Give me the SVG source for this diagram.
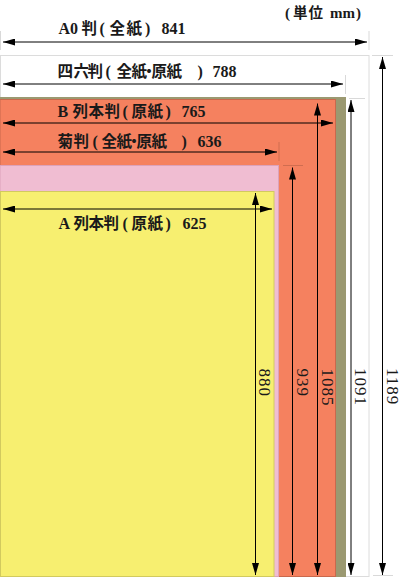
<svg xmlns="http://www.w3.org/2000/svg" width="400" height="577" viewBox="0 0 400 577">
<style>
  .lbl { font-family: "Liberation Serif", "Noto Sans CJK JP", serif; font-size: 16px; font-weight: bold; fill: #1a1a1a; }
  .cjk { font-family: "Noto Sans CJK JP", sans-serif; font-size: 15.5px; font-weight: bold; }
  .vlbl { font-family: "Liberation Serif", serif; font-size: 17px; fill: #1a1a1a; letter-spacing: 1px; }
  .dim { stroke: #000; stroke-width: 1; fill: none; marker-start: url(#ah); marker-end: url(#ah); }
  .ext { stroke: #000; stroke-opacity: 0.15; stroke-width: 1; fill: none; }
</style>
<defs>
  <marker id="ah" markerWidth="12" markerHeight="7" refX="12" refY="3.5" orient="auto-start-reverse" markerUnits="userSpaceOnUse">
    <path d="M0,0 L12,3.5 L0,7 z" fill="#000"/>
  </marker>
</defs>

<rect width="400" height="577" fill="#fff"/>

<g id="unit">
  <text class="lbl" y="17.5" style="font-size:15px"><tspan x="285">(</tspan><tspan class="cjk" style="font-size:14.5px" x="293 308.5">単位</tspan><tspan x="330">mm</tspan><tspan x="356">)</tspan></text>
</g>

<g id="a0">
  <rect x="0.5" y="55.5" width="368.5" height="521" fill="#fff" stroke="#dcdcdc"/>
  <text class="lbl" y="34"><tspan x="58.5">A0</tspan><tspan class="cjk" x="81.5">判</tspan><tspan x="99.5">(</tspan><tspan class="cjk" x="109.5 126.5">全紙</tspan><tspan x="145">)</tspan><tspan x="161.5">841</tspan></text>
  <text class="vlbl" transform="translate(386.5,368) rotate(90)">1189</text>
</g>

<g id="shiroku">
  <rect x="0" y="97" width="346" height="480" fill="#9b9971"/>
  <text class="lbl" y="77"><tspan class="cjk" x="57.5 73.5 87.5">四六判</tspan><tspan x="105.5">(</tspan><tspan class="cjk" x="116.5 131.5 141.3 151.5 166.5">全紙・原紙</tspan><tspan x="197.5">)</tspan><tspan x="212.5">788</tspan></text>
  <text class="vlbl" transform="translate(354.5,368) rotate(90)">1091</text>
</g>

<g id="b-honban">
  <rect x="0" y="99.5" width="335.5" height="477" fill="#f5815f" stroke="#c9694d"/>
  <text class="lbl" y="117"><tspan x="57.5">B</tspan><tspan class="cjk" x="72.5 88.5 104.5">列本判</tspan><tspan x="122.5">(</tspan><tspan class="cjk" x="131.5 147.5">原紙</tspan><tspan x="165.5">)</tspan><tspan x="181.5">765</tspan></text>
  <text class="vlbl" transform="translate(322,368.5) rotate(90)">1085</text>
</g>

<g id="kiku">
  <rect x="0" y="165.5" width="278.5" height="411" fill="#f0bdd2" stroke="#dca2ba"/>
  <text class="lbl" y="147"><tspan class="cjk" x="57.5 73.5">菊判</tspan><tspan x="92.5">(</tspan><tspan class="cjk" x="101.5 116.5 126.3 136.5 151.5">全紙・原紙</tspan><tspan x="181.5">)</tspan><tspan x="197.5">636</tspan></text>
  <text class="vlbl" transform="translate(297,368.5) rotate(90)">939</text>
</g>

<g id="a-honban">
  <rect x="0.5" y="191.5" width="273.5" height="385" fill="#f7ef70" stroke="#d2ca5e"/>
  <text class="lbl" y="229"><tspan x="58.5">A</tspan><tspan class="cjk" x="73.5 88.5 103.5">列本判</tspan><tspan x="122.5">(</tspan><tspan class="cjk" x="131.5 147.5">原紙</tspan><tspan x="165.5">)</tspan><tspan x="182.5">625</tspan></text>
  <text class="vlbl" transform="translate(259,368.5) rotate(90)">880</text>
</g>

<g id="connectors">
  <path class="ext" d="M0.5,31 V50 M369,31 V50 M345.5,75 V94 M372,55.5 H393 M373,575.5 H393 M349,98.5 H365 M279,142 V161 M283,165.5 H303"/>
  <line class="dim" x1="3" y1="42" x2="367" y2="42"/>
  <line class="dim" x1="3" y1="84" x2="343" y2="84"/>
  <line class="dim" x1="3" y1="123" x2="333" y2="123"/>
  <line class="dim" x1="3" y1="152" x2="277" y2="152"/>
  <line class="dim" x1="3" y1="209" x2="272" y2="209"/>
  <line class="dim" x1="382.5" y1="57" x2="382.5" y2="575"/>
  <line class="dim" x1="351" y1="100" x2="351" y2="575"/>
  <line class="dim" x1="317.5" y1="103.5" x2="317.5" y2="575"/>
  <line class="dim" x1="292.5" y1="167.5" x2="292.5" y2="575"/>
  <line class="dim" x1="255.5" y1="193" x2="255.5" y2="575"/>
</g>
</svg>
